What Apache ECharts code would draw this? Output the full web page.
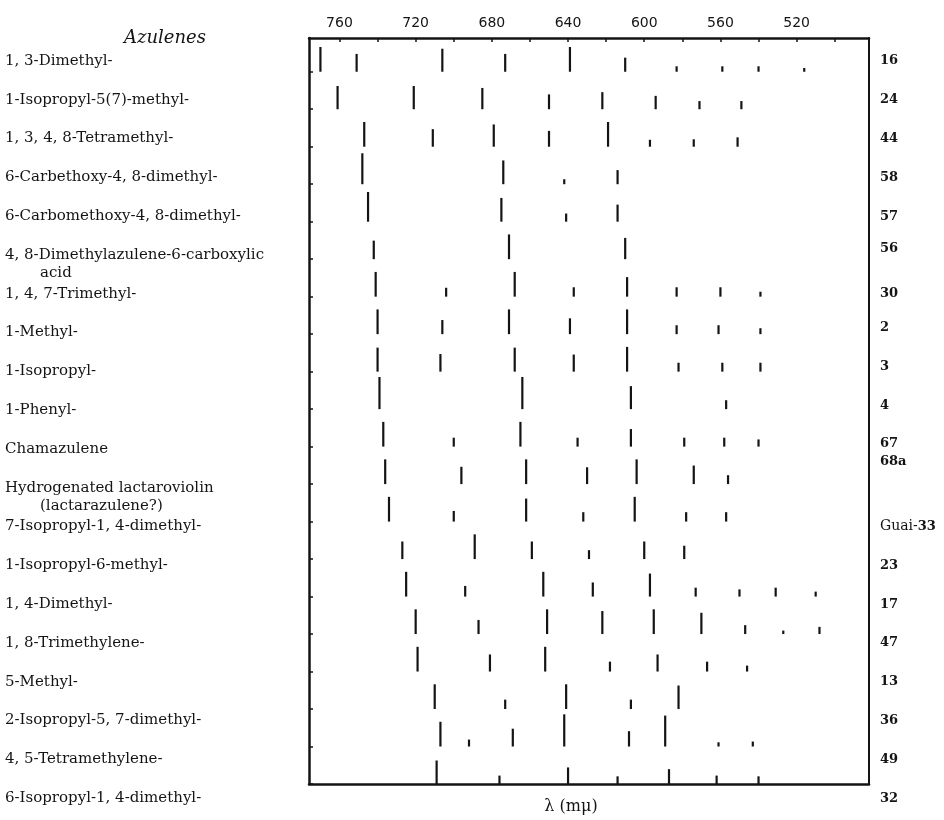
<!DOCTYPE html>
<html><head><meta charset="utf-8">
<script src="https://cdn.jsdelivr.net/npm/echarts@6/dist/echarts.min.js"></script>
<style>html,body{margin:0;padding:0;background:#fff}#c{width:944px;height:820px}</style>
</head><body><div id="c"></div>
<script>
const compounds = [
  '1, 3-Dimethyl-', '1-Isopropyl-5(7)-methyl-', '1, 3, 4, 8-Tetramethyl-',
  '6-Carbethoxy-4, 8-dimethyl-', '6-Carbomethoxy-4, 8-dimethyl-',
  '4, 8-Dimethylazulene-6-carboxylic\nacid', '1, 4, 7-Trimethyl-', '1-Methyl-',
  '1-Isopropyl-', '1-Phenyl-', 'Chamazulene',
  'Hydrogenated lactaroviolin\n(lactarazulene?)', '7-Isopropyl-1, 4-dimethyl-',
  '1-Isopropyl-6-methyl-', '1, 4-Dimethyl-', '1, 8-Trimethylene-', '5-Methyl-',
  '2-Isopropyl-5, 7-dimethyl-', '4, 5-Tetramethylene-', '6-Isopropyl-1, 4-dimethyl-'
];
const refs = ['16','24','44','58','57','56','30','2','3','4','67','68a','Guai-33','23','17','47','13','36','49','32'];
const tickLabels = [760, 720, 680, 640, 600, 560, 520];
const tickMarks = [760, 740, 720, 700, 680, 660, 640, 620, 600, 580, 560, 540, 520, 500];

// band wavelengths (mμ) and relative intensities (mark heights), one pair per compound
const wl01 = [770, 751, 706, 673, 639, 610, 583, 559, 540, 516];
const in01 = [1.0, 0.72, 0.93, 0.72, 1.0, 0.57, 0.22, 0.22, 0.22, 0.15];
const wl02 = [761, 721, 685, 650, 622, 594, 571, 549];
const in02 = [0.94, 0.94, 0.86, 0.6, 0.69, 0.54, 0.33, 0.33];
const wl03 = [747, 711, 679, 650, 619, 597, 574, 551];
const in03 = [1.0, 0.71, 0.9, 0.64, 1.0, 0.28, 0.3, 0.38];
const wl04 = [748, 674, 642, 614];
const in04 = [1.25, 0.96, 0.2, 0.57];
const wl05 = [745, 675, 641, 614];
const in05 = [1.2, 0.96, 0.33, 0.69];
const wl06 = [742, 671, 610];
const in06 = [0.75, 1.0, 0.86];
const wl07 = [741, 704, 668, 637, 609, 583, 560, 539];
const in07 = [1.0, 0.36, 1.0, 0.38, 0.79, 0.38, 0.38, 0.2];
const wl08 = [740, 706, 671, 639, 609, 583, 561, 539];
const in08 = [1.0, 0.57, 1.0, 0.64, 1.0, 0.36, 0.36, 0.24];
const wl09 = [740, 707, 668, 637, 609, 582, 559, 539];
const in09 = [0.97, 0.71, 0.97, 0.69, 1.0, 0.36, 0.36, 0.36];
const wl10 = [739, 664, 607, 557];
const in10 = [1.3, 1.3, 0.93, 0.36];
const wl11 = [737, 700, 665, 635, 607, 579, 558, 540];
const in11 = [1.0, 0.36, 1.0, 0.36, 0.71, 0.36, 0.36, 0.29];
const wl12 = [736, 696, 662, 630, 604, 574, 556];
const in12 = [1.0, 0.7, 1.0, 0.68, 1.0, 0.75, 0.36];
const wl13 = [734, 700, 662, 632, 605, 578, 557];
const in13 = [1.0, 0.43, 0.93, 0.38, 1.0, 0.38, 0.38];
const wl14 = [727, 689, 659, 629, 600, 579];
const in14 = [0.71, 1.0, 0.71, 0.36, 0.71, 0.54];
const wl15 = [725, 694, 653, 627, 597, 573, 550, 531, 510];
const in15 = [1.0, 0.43, 1.0, 0.57, 0.93, 0.36, 0.29, 0.36, 0.2];
const wl16 = [720, 687, 651, 622, 595, 570, 547, 527, 508];
const in16 = [1.0, 0.57, 1.0, 0.93, 1.0, 0.86, 0.36, 0.14, 0.29];
const wl17 = [719, 681, 652, 618, 593, 567, 546];
const in17 = [1.0, 0.69, 1.0, 0.4, 0.69, 0.4, 0.24];
const wl18 = [710, 673, 641, 607, 582];
const in18 = [1.0, 0.38, 1.0, 0.38, 0.95];
const wl19 = [707, 692, 669, 642, 608, 589, 561, 543];
const in19 = [1.0, 0.28, 0.72, 1.3, 0.62, 1.25, 0.17, 0.2];
const wl20 = [709, 676, 640, 614, 587, 562, 540];
const in20 = [0.95, 0.34, 0.67, 0.31, 0.6, 0.34, 0.31];

const rowsWl = [wl01, wl02, wl03, wl04, wl05, wl06, wl07, wl08, wl09, wl10,
                wl11, wl12, wl13, wl14, wl15, wl16, wl17, wl18, wl19, wl20];
const rowsIn = [in01, in02, in03, in04, in05, in06, in07, in08, in09, in10,
                in11, in12, in13, in14, in15, in16, in17, in18, in19, in20];

const bands = [];
rowsWl.forEach((arr, r) => arr.forEach((w, k) => bands.push([w, r + 1, rowsIn[r][k]])));
const rowTicks = compounds.map((_, i) => i + 1);

const BAR = 0.66; // mark height of intensity 1, in row units
const serif = 'DejaVu Serif';
const ink = '#141414';

// right-hand reference numbers that sit a little above their row in the original
const refStyle = {'56': 'u6', '2': 'u5', '3': 'u5', '4': 'u5', '67': 'u5', '68a': 'u26'};

const chart = echarts.init(document.getElementById('c'), null, {renderer: 'canvas'});
chart.setOption({
  animation: false,
  backgroundColor: '#fff',
  title: {
    text: 'Azulenes', left: 119, top: 24,
    textStyle: {fontFamily: serif, fontStyle: 'italic', fontWeight: 'normal', fontSize: 18, color: ink}
  },
  grid: [
    {left: 309, right: 75, top: 38, bottom: 26},
    {left: 309, right: 75, top: 41.6, bottom: 2.4}
  ],
  xAxis: [
    {
      type: 'value', gridIndex: 0, position: 'top', min: 482, max: 776, inverse: true,
      axisLine: {show: true, lineStyle: {color: ink, width: 2.5}},
      axisTick: {show: true, inside: true, length: 4, customValues: tickMarks, lineStyle: {color: ink, width: 1.5}},
      axisLabel: {margin: 8, color: ink, fontFamily: 'DejaVu Sans', fontSize: 14, customValues: tickLabels},
      splitLine: {show: false}
    },
    {
      type: 'value', gridIndex: 0, position: 'bottom', min: 482, max: 776, inverse: true,
      axisLine: {show: true, lineStyle: {color: ink, width: 2.5}},
      axisTick: {show: false}, axisLabel: {show: false}, splitLine: {show: false},
      name: 'λ (mμ)', nameLocation: 'middle', nameGap: 15,
      nameTextStyle: {fontFamily: serif, fontSize: 16, color: ink, padding: [0, 36, 0, 0]}
    },
    {type: 'value', gridIndex: 1, show: false, min: 0, max: 1}
  ],
  yAxis: [
    {
      type: 'value', gridIndex: 0, position: 'left', min: 0.1, max: 20, inverse: true,
      axisLine: {show: true, lineStyle: {color: ink, width: 2.5}},
      axisTick: {show: true, inside: true, length: 4, customValues: rowTicks, lineStyle: {color: ink, width: 1.5}},
      axisLabel: {show: false}, splitLine: {show: false}
    },
    {
      type: 'value', gridIndex: 0, position: 'right', min: 0.1, max: 20, inverse: true,
      axisLine: {show: true, lineStyle: {color: ink, width: 2}},
      axisTick: {show: false}, axisLabel: {show: false}, splitLine: {show: false}
    },
    {
      type: 'category', gridIndex: 1, position: 'left', data: compounds, inverse: true,
      axisLine: {show: false}, axisTick: {show: false}, splitLine: {show: false},
      axisLabel: {
        interval: 0, align: 'left', margin: 304, color: ink,
        fontFamily: serif, fontSize: 15, lineHeight: 18,
        formatter: v => {
          const p = v.split('\n');
          return p.length === 1 ? v : '\n' + p[0] + '\n{ind|' + p[1] + '}';
        },
        rich: {ind: {padding: [0, 0, 0, 35], fontFamily: serif, fontSize: 15, lineHeight: 18, color: ink}}
      }
    },
    {
      type: 'category', gridIndex: 1, position: 'right', data: refs, inverse: true,
      axisLine: {show: false}, axisTick: {show: false}, splitLine: {show: false},
      axisLabel: {
        interval: 0, align: 'left', margin: 11, color: ink,
        fontFamily: serif, fontSize: 13, fontWeight: 'bold',
        formatter: v => {
          if (v.indexOf('Guai-') === 0) return '{g|Guai-}{gb|' + v.slice(5) + '}';
          return refStyle[v] ? '{' + refStyle[v] + '|' + v + '}' : v;
        },
        rich: {
          g: {fontFamily: serif, fontSize: 14, fontWeight: 'normal', color: ink},
          gb: {fontFamily: serif, fontSize: 13, fontWeight: 'bold', color: ink},
          u5: {fontFamily: serif, fontSize: 13, fontWeight: 'bold', color: ink, padding: [0, 0, 10, 0]},
          u6: {fontFamily: serif, fontSize: 13, fontWeight: 'bold', color: ink, padding: [0, 0, 12, 0]},
          u26: {fontFamily: serif, fontSize: 13, fontWeight: 'bold', color: ink, padding: [0, 0, 52, 0]}
        }
      }
    }
  ],
  series: [{
    type: 'custom', xAxisIndex: 0, yAxisIndex: 0, data: bands, clip: false,
    renderItem: (params, api) => {
      const w = api.value(0), r = api.value(1), h = api.value(2);
      const p0 = api.coord([w, r]);
      const p1 = api.coord([w, r - h * BAR]);
      return {
        type: 'line',
        shape: {x1: p0[0], y1: p0[1], x2: p1[0], y2: p1[1]},
        style: {stroke: ink, lineWidth: 2.2, lineCap: 'butt'}
      };
    }
  }]
});
</script></body></html>
